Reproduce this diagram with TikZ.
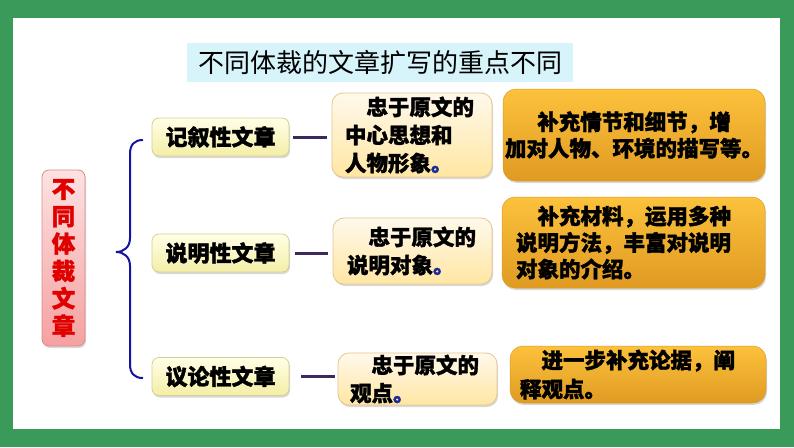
\documentclass[tikz,border=0pt]{standalone}
\usepackage{fontspec}
\setmainfont{Noto Sans CJK SC}[BoldFeatures={FakeBold=1.5}]
\usetikzlibrary{shadows}
\definecolor{frameg}{HTML}{3A9A5A}
\definecolor{titlebg}{HTML}{D6F4FA}
\definecolor{catTop}{HTML}{FFFFE6}
\definecolor{catBot}{HTML}{F4EEA6}
\definecolor{catBorder}{HTML}{D6CF98}
\definecolor{midTop}{HTML}{FFF9EC}
\definecolor{midBot}{HTML}{FFE6A2}
\definecolor{midBorder}{HTML}{E6C68E}
\definecolor{rTop}{HTML}{FCC23C}
\definecolor{rBot}{HTML}{E09A22}
\definecolor{rBorder}{HTML}{DA9A2A}
\definecolor{pinkTop}{HTML}{FDE2E2}
\definecolor{pinkBot}{HTML}{F6A0A0}
\definecolor{pinkBorder}{HTML}{D88C8C}
\definecolor{redtext}{HTML}{E00000}
\definecolor{bracec}{HTML}{1414A0}
\definecolor{connc}{HTML}{3C2A5C}
\definecolor{periodblue}{HTML}{1A2A9A}
\newcommand\bluedot{\textcolor{periodblue}{。}}
\begin{document}
\begin{tikzpicture}[x=1pt,y=-1pt,
  myshadow/.style={drop shadow={opacity=0.3, shadow xshift=1pt, shadow yshift=-2pt}},
  titlebox/.style={fill=titlebg, minimum width=386pt, minimum height=39pt, inner sep=0pt,
    font=\fontsize{26}{30}\selectfont},
  leftbox/.style={draw=pinkBorder, line width=0.8pt, rounded corners=7pt, top color=pinkTop, bottom color=pinkBot,
    minimum width=43pt, minimum height=176pt, inner sep=0pt, text=redtext, align=center,
    font=\fontsize{23.5}{27.4}\selectfont\bfseries, myshadow},
  catbox/.style={draw=catBorder, line width=0.8pt, rounded corners=7pt, top color=catTop, bottom color=catBot,
    minimum width=137pt, minimum height=38pt, inner sep=0pt,
    font=\fontsize{22}{26}\selectfont\bfseries, myshadow},
  midbox/.style={draw=midBorder, line width=0.8pt, rounded corners=11pt, top color=midTop, bottom color=midBot,
    inner sep=0pt, align=left, font=\fontsize{21.5}{28}\selectfont\bfseries, myshadow},
  rbox/.style={draw=rBorder, line width=0.5pt, rounded corners=13pt, top color=rTop, bottom color=rBot,
    inner sep=0pt, font=\fontsize{21.5}{26.5}\selectfont\bfseries, myshadow},
  conn/.style={draw=connc, line width=3pt},
  bracestyle/.style={draw=bracec, line width=2pt}
]
\useasboundingbox (0,0) rectangle (794,447);
\fill[frameg] (0,0) rectangle (794,447);
\fill[white] (13,18) rectangle (780,429);

\node[titlebox] (title) at (380,62.5) {不同体裁的文章扩写的重点不同};

\node[leftbox] (root) at (63.5,258) {不\\同\\体\\裁\\文\\章};

\node[catbox] (cat1) at (220.5,137) {记叙性文章};
\node[catbox] (cat2) at (220.5,253) {说明性文章};
\node[catbox] (cat3) at (220.5,376.5) {议论性文章};

\node[midbox, minimum width=160pt, minimum height=84pt, text width=134pt] (mid1) at (412,135)
  {\hspace*{1em}忠于原文的\\中心思想和\\人物形象\bluedot};
\node[midbox, minimum width=159pt, minimum height=66pt, text width=131pt] (mid2) at (412.5,251)
  {\hspace*{1em}忠于原文的\\说明对象\bluedot};
\node[midbox, minimum width=159pt, minimum height=52pt, text width=135pt] (mid3) at (417.5,379)
  {\hspace*{1em}忠于原文的\\观点\bluedot};

\node[rbox, minimum width=262pt, minimum height=92pt, align=center] (r1) at (634,135)
  {补充情节和细节，增\\加对人物、环境的描写等。};
\node[rbox, minimum width=263pt, minimum height=91pt, align=left, text width=235pt] (r2) at (633.5,242.5)
  {\hspace*{1em}补充材料，运用多种\\说明方法，丰富对说明\\对象的介绍。};
\node[rbox, minimum width=256pt, minimum height=57pt, align=left, text width=236pt, font=\fontsize{21.5}{29}\selectfont\bfseries] (r3) at (638,374.5)
  {\hspace*{1em}进一步补充论据，阐\\释观点。};

\draw[conn, shorten <=4pt, shorten >=5pt] (cat1.east) -- (cat1.east -| mid1.west);
\draw[conn, shorten <=6pt, shorten >=5pt] (cat2.east) -- (cat2.east -| mid2.west);
\draw[conn, shorten <=12pt, shorten >=3pt] (cat3.east) -- (cat3.east -| mid3.west);

\coordinate (btop) at (143,140);
\coordinate (btip) at (116,252);
\coordinate (bbot) at (143,378);
\draw[bracestyle] (btop) .. controls (134,140) and (130,145) .. (130,154) -- (130,238)
  .. controls (130,247) and (124,252) .. (btip)
  .. controls (124,252) and (130,257) .. (130,266) -- (130,364)
  .. controls (130,373) and (134,378) .. (bbot);
\end{tikzpicture}
\end{document}
